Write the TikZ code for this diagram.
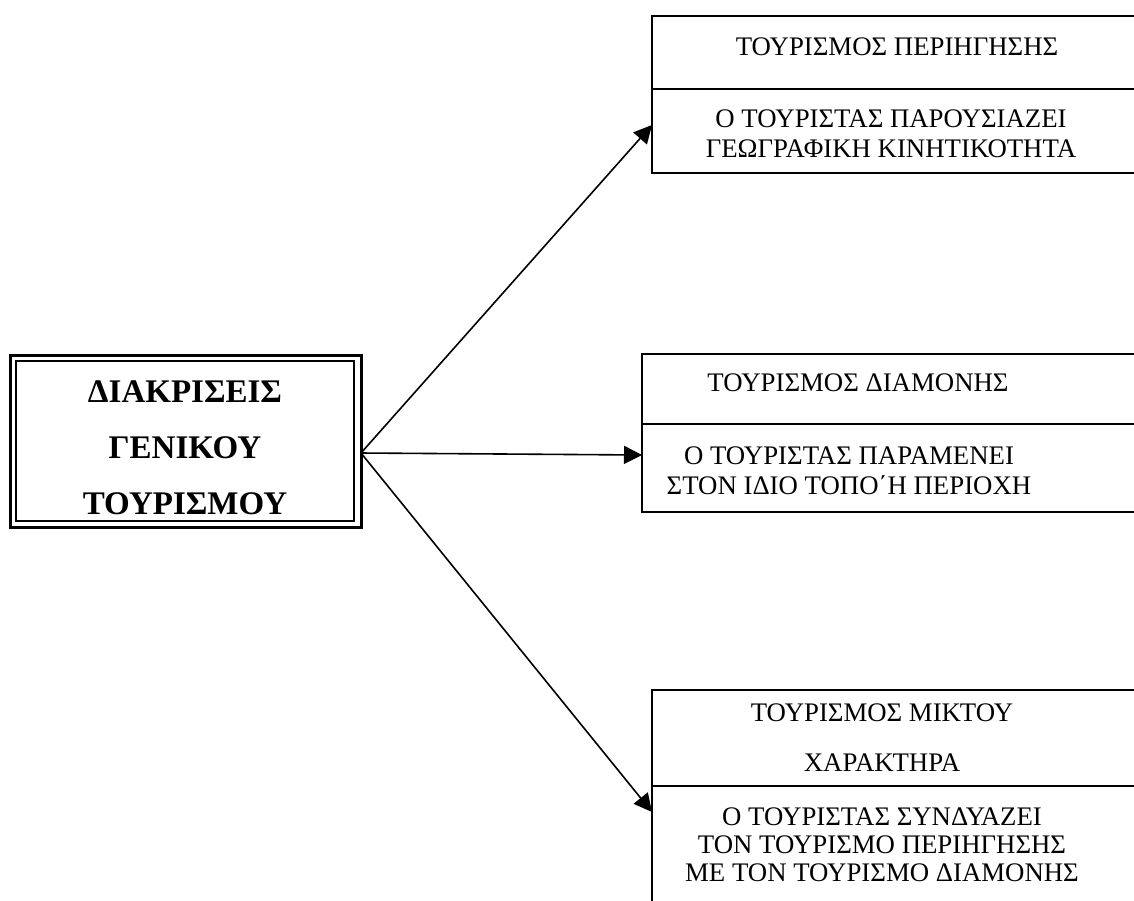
\documentclass[tikz,border=0pt]{standalone}
\usepackage{fontspec}
\setmainfont{Liberation Serif}
\usetikzlibrary{arrows.meta}

\tikzset{
  part/.style={draw, line width=1pt},
  txt/.style={font=\fontsize{13.4}{15}\selectfont, align=center, inner sep=0pt},
  headtxt/.style={font=\fontsize{16.5}{28}\selectfont\bfseries, align=center, inner sep=0pt},
  link/.style={line width=0.8pt, -{Triangle[length=9pt,width=9pt]}}
}

\begin{document}
\begin{tikzpicture}[x=0.5pt,y=-0.5pt]
\useasboundingbox (0,0) rectangle (1134,900);
\clip (0,0) rectangle (1134,900);

% main box (double frame)
\draw[line width=1.5pt] (10,355) rectangle (361,527);
\draw[line width=0.8pt] (16,361) rectangle (354,521);
\node[headtxt] (genikos) at (185,448) {ΔΙΑΚΡΙΣΕΙΣ\\ΓΕΝΙΚΟΥ\\ΤΟΥΡΙΣΜΟΥ};
\coordinate (src) at (361,453);

% tourismos periigisis
\draw[part] (1140,16) -- (652,16) -- (652,173) -- (1140,173);
\draw[part] (652,89) -- (1140,89);
\node[txt] (perihead) at (897,47) {ΤΟΥΡΙΣΜΟΣ ΠΕΡΙΗΓΗΣΗΣ};
\node[txt] (peritext) at (891,134) {Ο ΤΟΥΡΙΣΤΑΣ ΠΑΡΟΥΣΙΑΖΕΙ\\ΓΕΩΓΡΑΦΙΚΗ ΚΙΝΗΤΙΚΟΤΗΤΑ};
\coordinate (peri) at (652,125);

% tourismos diamonis
\draw[part] (1140,354) -- (642,354) -- (642,512) -- (1140,512);
\draw[part] (642,424) -- (1140,424);
\node[txt] (diamhead) at (858,383) {ΤΟΥΡΙΣΜΟΣ ΔΙΑΜΟΝΗΣ};
\node[txt] (diamtext) at (849,471) {Ο ΤΟΥΡΙΣΤΑΣ ΠΑΡΑΜΕΝΕΙ\\ΣΤΟΝ ΙΔΙΟ ΤΟΠΟ΄Η ΠΕΡΙΟΧΗ};
\coordinate (diam) at (642,455);

% tourismos miktou xaraktira
\draw[part] (1140,690) -- (652,690) -- (652,910);
\draw[part] (652,786) -- (1140,786);
\node[txt, font=\fontsize{13.4}{25}\selectfont] (mikthead) at (882,738) {ΤΟΥΡΙΣΜΟΣ ΜΙΚΤΟΥ\\ΧΑΡΑΚΤΗΡΑ};
\node[txt, font=\fontsize{13.4}{14}\selectfont] (mikttext) at (882,845) {Ο ΤΟΥΡΙΣΤΑΣ ΣΥΝΔΥΑΖΕΙ\\ΤΟΝ ΤΟΥΡΙΣΜΟ ΠΕΡΙΗΓΗΣΗΣ\\ΜΕ ΤΟΝ ΤΟΥΡΙΣΜΟ ΔΙΑΜΟΝΗΣ};
\coordinate (mikt) at (652,812);

\draw[link] (src) -- (peri);
\draw[link] (src) -- (diam);
\draw[link] (src) -- (mikt);
\end{tikzpicture}
\end{document}
